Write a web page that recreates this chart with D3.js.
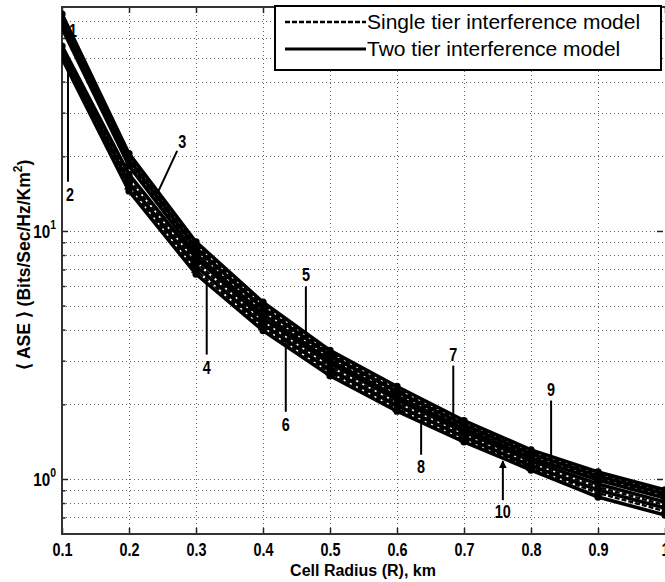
<!DOCTYPE html>
<html>
<head>
<meta charset="utf-8">
<script src="https://cdn.jsdelivr.net/npm/d3@7"></script>
<style>
  body { margin: 0; background: #fff; }
  svg { display: block; }
  .narrow { font-family: "Liberation Sans", Arial, sans-serif; font-weight: bold; }
  .wide { font-family: "Liberation Sans", Arial, sans-serif; }
</style>
</head>
<body>
<svg id="chart"></svg>
<script>
// ---- DATA ----
const radius = [0.1, 0.2, 0.3, 0.4, 0.5, 0.6, 0.7, 0.8, 0.9, 1.0];

const ase1  = [74.9, 20.5, 9.03, 5.16, 3.30, 2.36, 1.72, 1.31, 1.067, 0.903];
const ase3  = [72.2, 19.9, 8.78, 5.02, 3.22, 2.30, 1.685, 1.286, 1.048, 0.886];
const ase5  = [69.5, 19.4, 8.53, 4.88, 3.15, 2.25, 1.654, 1.262, 1.028, 0.870];
const ase7  = [67.6, 18.85, 8.30, 4.74, 3.07, 2.20, 1.623, 1.239, 1.009, 0.853];
const ase9  = [65.7, 18.3, 8.07, 4.61, 3.00, 2.15, 1.594, 1.216, 0.991, 0.838];
const ase2  = [55.6, 16.9, 7.78, 4.44, 2.92, 2.09, 1.55, 1.183, 0.954, 0.807];
const ase4  = [54.1, 16.2, 7.49, 4.32, 2.84, 2.03, 1.514, 1.156, 0.928, 0.785];
const ase6  = [52.6, 15.6, 7.22, 4.20, 2.76, 1.975, 1.479, 1.129, 0.903, 0.763];
const ase8  = [51.1, 15.1, 6.95, 4.09, 2.69, 1.92, 1.445, 1.108, 0.878, 0.742];
const ase10 = [49.7, 14.5, 6.70, 3.97, 2.61, 1.876, 1.412, 1.087, 0.846, 0.715];

const curveLabels = ['1', '3', '5', '7', '9', '2', '4', '6', '8', '10'];
const curveValues = [ase1, ase3, ase5, ase7, ase9, ase2, ase4, ase6, ase8, ase10];
const curveModels = ['two', 'single', 'two', 'single', 'two', 'two', 'single', 'two', 'single', 'two'];

const modelKeys = ['single', 'two'];
const modelLabels = ['Single tier interference model', 'Two tier interference model'];

// where each numbered label points (cell radius at the pointer tip)
const annotLabels = ['1', '2', '3', '4', '5', '6', '7', '8', '9', '10'];
const annotRadius = [0.1, 0.109, 0.242, 0.316, 0.464, 0.434, 0.684, 0.636, 0.830, 0.758];

const xTicks = [0.1, 0.2, 0.3, 0.4, 0.5, 0.6, 0.7, 0.8, 0.9, 1.0];
const xTickLabels = ['0.1', '0.2', '0.3', '0.4', '0.5', '0.6', '0.7', '0.8', '0.9', '1'];
const yMajorTicks = [1, 10];
const yMajorExp = ['0', '1'];
const yMinorTicks = [0.7, 0.8, 0.9, 2, 3, 4, 5, 6, 7, 8, 9, 20, 30, 40, 50, 60, 70];

class AseChart {

  constructor(_config) {
    this.config = {
      parentElement: _config.parentElement,
      containerWidth: _config.containerWidth || 665,
      containerHeight: _config.containerHeight || 582,
      margin: {top: 7, right: 0, bottom: 48, left: 62},
      squeeze: 0.8, // the reference uses a condensed bold face for numbers
      // text offsets of the numbered labels from their pointer tip
      labelLayout: {
        '1':  {tx: 11, ty: 17},
        '2':  {tx: 2,  ty: 137, lx: 0,  ly: 124},
        '3':  {tx: 25, ty: -52, lx: 20, ly: -43},
        '4':  {tx: 0,  ty: 96,  lx: 0,  ly: 83},
        '5':  {tx: 0,  ty: -64, lx: 0,  ly: -52},
        '6':  {tx: 0,  ty: 85,  lx: 0,  ly: 72},
        '7':  {tx: 0,  ty: -67, lx: 0,  ly: -56},
        '8':  {tx: 0,  ty: 47,  lx: 0,  ly: 35},
        '9':  {tx: 0,  ty: -75, lx: 0,  ly: -64},
        '10': {tx: 0,  ty: 54,  lx: 0,  ly: 42, arrow: true}
      }
    };
    this.initVis();
  }

  initVis() {
    let vis = this;

    vis.width = vis.config.containerWidth - vis.config.margin.left - vis.config.margin.right;
    vis.height = vis.config.containerHeight - vis.config.margin.top - vis.config.margin.bottom;

    vis.svg = d3.select(vis.config.parentElement)
      .attr('width', vis.config.containerWidth)
      .attr('height', vis.config.containerHeight);

    vis.chart = vis.svg.append('g')
      .attr('transform', `translate(${vis.config.margin.left}, ${vis.config.margin.top})`);

    vis.xScale = d3.scaleLinear()
      .domain([0.1, 1.0])
      .range([0, vis.width]);

    vis.yScale = d3.scaleLog()
      .domain([0.6, 80])
      .range([vis.height, 0]);

    vis.defs = vis.svg.append('defs');
    vis.defs.append('clipPath').attr('id', 'plot-clip')
      .append('rect')
      .attr('width', vis.width)
      .attr('height', vis.height);
    vis.defs.append('marker')
      .attr('id', 'arrowhead')
      .attr('viewBox', '0 -5 10 10')
      .attr('refX', 9)
      .attr('refY', 0)
      .attr('markerWidth', 4)
      .attr('markerHeight', 4)
      .attr('orient', 'auto')
      .append('path')
      .attr('d', 'M0,-5L10,0L0,5Z')
      .attr('fill', '#000');

    // ---- GRIDLINES ----
    vis.chart.append('g')
      .attr('class', 'grid x-grid')
      .selectAll('line')
      .data(xTicks.slice(1))
      .join('line')
      .attr('x1', d => Math.round(vis.xScale(d)) + 0.5)
      .attr('x2', d => Math.round(vis.xScale(d)) + 0.5)
      .attr('y1', 0)
      .attr('y2', vis.height);

    vis.chart.append('g')
      .attr('class', 'grid y-grid')
      .selectAll('line')
      .data(yMajorTicks.concat(yMinorTicks))
      .join('line')
      .attr('x1', 0)
      .attr('x2', vis.width)
      .attr('y1', d => Math.round(vis.yScale(d)) + 0.5)
      .attr('y2', d => Math.round(vis.yScale(d)) + 0.5);

    vis.chart.selectAll('.grid line')
      .attr('stroke', '#666')
      .attr('stroke-width', 1)
      .attr('stroke-dasharray', '1,3');

    // ---- AXES (ticks point inward on all four sides) ----
    vis.xAxis = d3.axisBottom(vis.xScale)
      .tickValues(xTicks)
      .tickFormat((d, i) => xTickLabels[i])
      .tickSizeInner(-6)
      .tickSizeOuter(0)
      .tickPadding(9);

    vis.xAxisGroup = vis.chart.append('g')
      .attr('class', 'axis x-axis')
      .attr('transform', `translate(0, ${vis.height})`)
      .call(vis.xAxis);

    vis.xAxisGroup.selectAll('text')
      .attr('class', 'narrow')
      .attr('font-size', 18)
      .attr('fill', '#000')
      .attr('transform', `scale(${vis.config.squeeze}, 1)`);

    vis.chart.append('g')
      .attr('class', 'axis x-top')
      .call(d3.axisTop(vis.xScale).tickValues(xTicks).tickFormat('').tickSizeInner(-6).tickSizeOuter(0));

    vis.chart.append('g')
      .attr('class', 'axis y-left')
      .call(d3.axisLeft(vis.yScale).tickValues(yMajorTicks).tickFormat('').tickSizeInner(-6).tickSizeOuter(0));
    vis.chart.append('g')
      .attr('class', 'axis y-left-minor')
      .call(d3.axisLeft(vis.yScale).tickValues(yMinorTicks).tickFormat('').tickSizeInner(-3.5).tickSizeOuter(0));
    vis.chart.append('g')
      .attr('class', 'axis y-right')
      .attr('transform', `translate(${vis.width - 2}, 0)`)
      .call(d3.axisRight(vis.yScale).tickValues(yMajorTicks).tickFormat('').tickSizeInner(-6).tickSizeOuter(0));

    vis.chart.selectAll('.axis .domain').remove();
    vis.chart.selectAll('.axis line')
      .attr('stroke', '#222')
      .attr('stroke-width', 1.5);

    // axis box (left, bottom, top)
    vis.chart.append('path')
      .attr('d', `M${vis.width},0H0V${vis.height}H${vis.width}`)
      .attr('fill', 'none')
      .attr('stroke', '#333')
      .attr('stroke-width', 2);

    // y tick labels 10^0, 10^1
    const yLabels = vis.chart.append('g')
      .selectAll('g')
      .data(yMajorTicks)
      .join('g')
      .attr('transform', d => `translate(-6, ${vis.yScale(d) + 7})`)
      .append('text')
      .attr('class', 'narrow')
      .attr('transform', `scale(${vis.config.squeeze}, 1)`)
      .attr('text-anchor', 'end')
      .attr('font-size', 19)
      .attr('fill', '#000');
    yLabels.append('tspan').text('10');
    yLabels.append('tspan')
      .attr('font-size', 13)
      .attr('dy', -9)
      .text((d, i) => yMajorExp[i]);

    // axis titles
    vis.svg.append('text')
      .attr('class', 'wide')
      .attr('x', 363)
      .attr('y', 576)
      .attr('text-anchor', 'middle')
      .attr('font-size', 16)
      .attr('font-weight', 'bold')
      .text('Cell Radius (R), km');

    const yTitle = vis.svg.append('text')
      .attr('class', 'wide')
      .attr('transform', 'translate(30, 265) rotate(-90)')
      .attr('text-anchor', 'middle')
      .attr('font-size', 17.5)
      .attr('font-weight', 'bold');
    yTitle.append('tspan').text('\u27E8 ASE \u27E9 (Bits/Sec/Hz/Km');
    yTitle.append('tspan').attr('font-size', 12).attr('dy', -8).text('2');
    yTitle.append('tspan').attr('dy', 8).text(')');

    vis.updateVis();
  }

  updateVis() {
    let vis = this;

    vis.series = curveLabels.map((label, i) => ({
      label: label,
      model: curveModels[i],
      points: radius.map((r, j) => ({r: r, v: curveValues[i][j]}))
    }));

    vis.line = d3.line()
      .x(d => vis.xScale(d.r))
      .y(d => vis.yScale(d.v));

    // pointer tip position on a curve (straight segments in screen space)
    const tip = (label, r) => {
      const s = vis.series.find(c => c.label === label);
      const j = Math.min(Math.floor((r - radius[0]) / 0.1 + 1e-9), radius.length - 2);
      const t = (r - radius[j]) / (radius[j + 1] - radius[j]);
      const y0 = vis.yScale(s.points[j].v);
      const y1 = vis.yScale(s.points[j + 1].v);
      return {x: vis.xScale(r), y: y0 + t * (y1 - y0)};
    };

    vis.annots = annotLabels.map((label, i) => {
      const p = tip(label, annotRadius[i]);
      return Object.assign({label: label, x: p.x, y: p.y}, vis.config.labelLayout[label]);
    });

    // leader lines go under the curve bundle
    vis.chart.append('g')
      .selectAll('line')
      .data(vis.annots.filter(a => a.ly !== undefined && !a.arrow))
      .join('line')
      .attr('x1', a => a.x)
      .attr('y1', a => a.y)
      .attr('x2', a => a.x + a.lx)
      .attr('y2', a => a.y + a.ly)
      .attr('stroke', '#000')
      .attr('stroke-width', 2);

    const curves = vis.chart.append('g')
      .attr('clip-path', 'url(#plot-clip)')
      .selectAll('.curve')
      .data(vis.series)
      .join('g')
      .attr('class', 'curve');

    curves.append('path')
      .attr('d', d => vis.line(d.points))
      .attr('fill', 'none')
      .attr('stroke', '#000')
      .attr('stroke-width', d => d.model === 'two' ? 3.6 : 2.4)
      .attr('stroke-dasharray', d => d.model === 'two' ? null : '5,2');

    curves.selectAll('path.mark')
      .data(d => d.points.map(p => ({p: p, model: d.model})))
      .join('path')
      .attr('class', 'mark')
      .attr('transform', d => `translate(${vis.xScale(d.p.r)}, ${vis.yScale(d.p.v)})`)
      .attr('d', d => d3.symbol(d.model === 'two' ? d3.symbolCircle : d3.symbolTriangle, 42)())
      .attr('fill', '#000');

    // arrow pointers on top
    vis.chart.append('g')
      .selectAll('line')
      .data(vis.annots.filter(a => a.arrow))
      .join('line')
      .attr('x1', a => a.x + a.lx)
      .attr('y1', a => a.y + a.ly)
      .attr('x2', a => a.x)
      .attr('y2', a => a.y + 3)
      .attr('stroke', '#000')
      .attr('stroke-width', 2)
      .attr('marker-end', 'url(#arrowhead)');

    vis.chart.append('g')
      .selectAll('g')
      .data(vis.annots)
      .join('g')
      .attr('transform', a => `translate(${a.x + a.tx}, ${a.y + a.ty})`)
      .append('text')
      .attr('class', 'narrow')
      .attr('transform', `scale(${vis.config.squeeze}, 1)`)
      .attr('dy', '0.35em')
      .attr('text-anchor', 'middle')
      .attr('font-size', 18)
      .attr('fill', '#000')
      .text(a => a.label);

    // ---- LEGEND ----
    const legend = vis.svg.append('g').attr('class', 'legend');
    legend.append('rect')
      .attr('x', 275)
      .attr('y', 6)
      .attr('width', 386)
      .attr('height', 64)
      .attr('fill', '#fff')
      .attr('stroke', '#000')
      .attr('stroke-width', 2);

    const rows = legend.selectAll('.legend-row')
      .data(modelKeys)
      .join('g')
      .attr('class', 'legend-row')
      .attr('transform', (d, i) => `translate(285, ${22 + i * 27})`);

    rows.append('line')
      .attr('x1', 0)
      .attr('x2', 81)
      .attr('stroke', '#000')
      .attr('stroke-width', d => d === 'two' ? 3 : 2.5)
      .attr('stroke-dasharray', d => d === 'two' ? null : '5,2');

    rows.append('text')
      .attr('class', 'wide')
      .attr('x', 82)
      .attr('y', 7)
      .attr('font-size', 21)
      .attr('fill', '#000')
      .text((d, i) => modelLabels[i]);
  }
}

new AseChart({parentElement: '#chart'});
</script>
</body>
</html>
